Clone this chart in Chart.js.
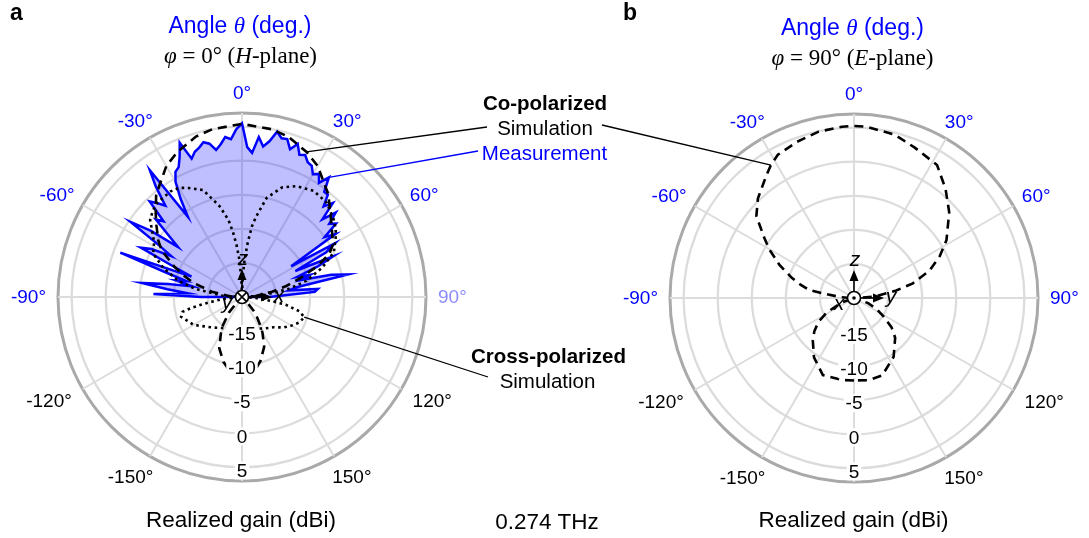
<!DOCTYPE html>
<html><head><meta charset="utf-8">
<script src="https://cdn.jsdelivr.net/npm/chart.js@4.4.1/dist/chart.umd.min.js"></script>
<style>
html,body{margin:0;padding:0;background:#fff;}
#wrap{position:relative;width:1089px;height:538px;overflow:hidden;background:#fff;}
canvas{position:absolute;left:0;top:0;}
.t{position:absolute;white-space:nowrap;font-family:"Liberation Sans",Arial,sans-serif;color:#000;}
</style></head><body><div id="wrap">
<canvas id="ca" width="1089" height="538"></canvas>
<canvas id="cb" width="1089" height="538"></canvas>
</div>
<script>
// ---------------- data (angle in degrees, realized gain in dBi) ----------------
const RING_TICKS = [-20, -15, -10, -5, 0, 5, 7];
const RING_LABELS = [-15, -10, -5, 0, 5];
const ANGLE_LABELS = [0, 30, 60, 90, 120, 150, -150, -120, -90, -60, -30];
const STEP_DEG = 2;

// H-plane (phi = 0), co-polarized simulation
const H_COPOL_SIM = [[-180,-8.6],[-170,-9.1],[-164,-10.1],[-156,-11.8],[-150,-13.8],[-146,-15.0],[-140,-17.0],[-130,-19.5],[-120,-20],[-100,-20],
 [-90,-19.5],[-86,-18],[-80,-15.5],[-74,-12.7],[-70,-11],[-66,-9.2],[-60,-6.4],[-56,-5.2],[-50,-3.6],[-46,-2.4],[-40,-0.4],[-30,2.2],[-24,3.3],[-16,4.5],[-10,5.0],
 [0,5.4],[10,5.0],[16,4.5],[24,3.3],[30,2.2],[40,-0.3],[46,-2.0],[50,-2.9],[56,-4.0],[60,-4.6],[64,-5.8],[68,-8.3],[72,-11],[76,-13.3],[80,-15.5],[86,-18],[90,-19.5],
 [100,-20],[120,-20],[130,-19.5],[140,-17],[146,-15.5],[150,-14],[156,-12],[164,-10.2],[170,-9.1]];
// H-plane, cross-polarized simulation
const H_CROSS_SIM = [[-180,-15.4],[-160,-15.1],[-146,-14.5],[-134,-13.6],[-128,-13.0],[-120,-11.8],[-116,-11.5],[-108,-10.6],[-104,-11.0],[-102,-12.5],[-100,-14.5],[-96,-17],[-92,-19.5],
 [-90,-20],[-86,-17],[-80,-13],[-76,-10.5],[-70,-7.8],[-64,-5.5],[-58,-4.8],[-50,-2.4],[-46,-1.8],[-42,-1.4],[-34,-1.3],[-30,-1.5],[-26,-2.2],[-20,-3.3],[-14,-6.2],[-10,-8.5],[-8,-10.3],[-6,-12.3],[-4,-14.5],[-2,-17.5],
 [0,-20],[2,-17],[4,-14.5],[6,-12],[8,-9.5],[10,-8],[14,-5],[20,-2.9],[26,-1.9],[34,-1.2],[42,-1.4],[50,-2.4],[54,-3.0],[58,-3.8],[64,-5.0],[70,-7.5],[76,-10.3],[80,-13],[86,-17],
 [90,-20],[94,-18],[98,-15.5],[100,-13.5],[104,-11.3],[108,-10.4],[114,-10.8],[120,-11.6],[126,-12.4],[134,-13.6],[146,-14.4],[160,-15.1]];
// H-plane, co-polarized measurement
const H_COPOL_MEAS = [[-90,-14],[-88,-7],[-86,-12],[-84,-9],[-82,-5.2],[-80,-9],[-78,-12.5],[-76,-10],[-74,-11.5],[-72,-8],[-70,-1.0],[-68,-12],[-66,-9],[-64,-3.5],[-62,-5],
 [-60,-8],[-58,-5.5],[-56,-0.3],[-54,-3.5],[-52,-8.1],[-50,-6],[-48,-3],[-46,-4],[-44,-0.5],[-42,-1.5],[-40,-2.5],[-38,0.5],[-36,3.0],[-34,-5.8],[-32,-3],[-30,-0.5],
 [-28,0.8],[-26,1.2],[-24,2.5],[-22,4.4],[-20,1.6],[-18,2.4],[-16,2.8],[-14,3.4],[-12,3.0],[-10,1.9],[-8,2.6],[-6,3.6],[-4,3.2],[-2,4.6],[0,5.5],
 [2,2.0],[4,1.2],[6,3.6],[8,2.3],[10,3.2],[12,4.8],[14,4.0],[16,4.1],[18,2.8],[20,3.9],[22,2.5],[24,2.8],[26,2.0],[28,1.8],[30,0.8],
 [32,1.3],[34,0.2],[36,1.7],[38,-0.4],[40,-0.4],[42,-2.1],[44,-0.8],[46,-3.6],[48,-1.5],[50,-3.3],[52,-2.5],[54,-5.0],[56,-3.5],[58,-11.5],[60,-4.3],
 [62,-6.0],[64,-11.3],[66,-5.4],[68,-8.0],[70,-11.4],[72,-9.5],[74,-11.0],[76,-6.5],[78,-4.1],[80,-12.0],[82,-13.0],[84,-8.8],[86,-9.3],[88,-14.0],[90,-16.0]];
// E-plane (phi = 90), co-polarized simulation
const E_COPOL_SIM = [[-180,-7.9],[-172,-7.85],[-158,-7.8],[-146,-9.5],[-136,-11.3],[-130,-12.4],[-124,-13.7],[-118,-15.5],[-110,-18],[-100,-20],
 [-90,-19.5],[-86,-18],[-82,-15.7],[-80,-13.4],[-76,-11.9],[-72,-10.4],[-66,-8.0],[-60,-5.6],[-56,-4.1],[-50,-1.3],[-44,0.3],[-36,2.0],[-32,3.0],[-28,3.8],[-20,4.4],[-12,4.95],[-4,5.2],
 [0,5.25],[4,5.2],[14,4.7],[22,3.8],[32,3.0],[40,0.9],[48,-1.2],[58,-4.0],[64,-6.0],[70,-8.2],[76,-11.1],[80,-13.7],[86,-17],[90,-19.5],
 [100,-20],[110,-17.8],[116,-16.3],[122,-14.9],[128,-13.0],[134,-11.6],[146,-9.6],[160,-7.9],[170,-7.75]];

// ---------------- category axis: angle of each radar spoke ----------------
const N = 360 / STEP_DEG;
const LABELS = [];
for (let i = 0; i < N; i++) { let a = (180 + i * STEP_DEG) % 360; if (a > 180) a -= 360; LABELS.push(a); }
function idxOf(deg) { return (((deg - 180) % 360 + 360) % 360) / STEP_DEG; }
function series(pairs) { const out = new Array(N).fill(null); pairs.forEach(([d, v]) => { out[idxOf(d)] = v; }); return out; }
function valAt(pairs, deg) { const p = pairs.find(q => q[0] === deg); return p ? p[1] : null; }

const SANS = '"Liberation Sans", Arial, sans-serif';

function decor(cfg) {
  return {
    id: 'decor',
    afterDatasetsDraw(chart) {
      const s = chart.scales.r, ctx = chart.ctx;
      const cx = s.xCenter, cy = s.yCenter, R = s.drawingArea;
      ctx.save();
      ctx.setLineDash([]);
      // callout leader lines
      cfg.callouts.forEach(c => {
        const p = s.getPointPositionForValue(idxOf(c.deg), valAt(c.pairs, c.deg));
        ctx.strokeStyle = c.color; ctx.lineWidth = 1.3;
        ctx.beginPath(); ctx.moveTo(c.from[0], c.from[1]); ctx.lineTo(p.x, p.y); ctx.stroke();
      });
      // coordinate glyph
      const g = cfg.glyph;
      ctx.strokeStyle = '#000'; ctx.fillStyle = '#000'; ctx.lineWidth = 1.6;
      ctx.beginPath(); ctx.moveTo(cx, cy - 7); ctx.lineTo(cx, cy - 19); ctx.stroke();
      ctx.beginPath(); ctx.moveTo(cx, cy - 28); ctx.lineTo(cx - 4.5, cy - 17); ctx.lineTo(cx + 4.5, cy - 17); ctx.closePath(); ctx.fill();
      ctx.beginPath(); ctx.moveTo(cx + 7, cy); ctx.lineTo(cx + 20, cy); ctx.stroke();
      ctx.beginPath(); ctx.moveTo(cx + 30, cy); ctx.lineTo(cx + 19, cy - 4.5); ctx.lineTo(cx + 19, cy + 4.5); ctx.closePath(); ctx.fill();
      ctx.beginPath(); ctx.arc(cx, cy, 6.5, 0, Math.PI * 2); ctx.fillStyle = '#fff'; ctx.fill(); ctx.stroke();
      ctx.fillStyle = '#000';
      if (g.type === 'cross') {
        ctx.beginPath(); ctx.moveTo(cx - 4.6, cy - 4.6); ctx.lineTo(cx + 4.6, cy + 4.6);
        ctx.moveTo(cx + 4.6, cy - 4.6); ctx.lineTo(cx - 4.6, cy + 4.6); ctx.stroke();
      } else {
        ctx.beginPath(); ctx.arc(cx, cy, 1.8, 0, Math.PI * 2); ctx.fill();
      }
      ctx.font = 'italic 21px ' + SANS; ctx.textAlign = 'center'; ctx.textBaseline = 'middle';
      ctx.fillText('z', cx + 1, cy - 38);
      ctx.fillText(g.right, cx + 37, cy - 1);
      ctx.fillText(g.left, cx - 15, cy + 6);
      // ring (gain) labels along the 180 deg direction
      ctx.font = '19px ' + SANS;
      RING_LABELS.forEach(v => {
        const r = s.getDistanceFromCenterForValue(v);
        const t = String(v), w = ctx.measureText(t).width;
        const y = cy + r + 3;
        ctx.fillStyle = '#fff'; ctx.fillRect(cx - w / 2 - 2, y - 9, w + 4, 18);
        ctx.fillStyle = '#000'; ctx.fillText(t, cx, y + 1);
      });
      // angle labels
      ANGLE_LABELS.forEach(a => {
        const t = a + '\u00b0', w = ctx.measureText(t).width, h = 16;
        const rad = a * Math.PI / 180, sn = Math.sin(rad), cs = Math.cos(rad);
        const rl = R + (Math.abs(a) > 90 ? 16 : 12);
        const x = cx + sn * rl + sn * w / 2, y = cy - cs * rl - cs * h / 2;
        ctx.fillStyle = cfg.labelColor(a);
        ctx.fillText(t, x, y + 1);
      });
      ctx.restore();
    }
  };
}

function makeChart(id, pad, datasets, cfg) {
  return new Chart(document.getElementById(id), {
    type: 'radar',
    data: { labels: LABELS, datasets },
    options: {
      responsive: false, animation: false, devicePixelRatio: 1, events: [],
      layout: { padding: pad },
      elements: { point: { radius: 0, hitRadius: 0 }, line: { tension: 0 } },
      plugins: { legend: { display: false }, tooltip: { enabled: false } },
      scales: {
        r: {
          min: -20, max: 7, startAngle: 180,
          afterBuildTicks: sc => { sc.ticks = RING_TICKS.map(v => ({ value: v })); },
          ticks: { display: false },
          pointLabels: { display: false },
          grid: {
            circular: true,
            color: c => (c.tick && c.tick.value === 7) ? '#a9a9a9' : '#dcdcdc',
            lineWidth: c => (c.tick && c.tick.value === 7) ? 3 : 2.3
          },
          angleLines: { color: '#dcdcdc', lineWidth: c => (c.index % (30 / STEP_DEG) === 0) ? 2 : 0 }
        }
      }
    },
    plugins: [decor(cfg)]
  });
}

const dashed = { borderColor: '#000', borderWidth: 2.6, borderDash: [9, 6], fill: false, spanGaps: true, pointRadius: 0 };
const dotted = { borderColor: '#000', borderWidth: 2.6, borderDash: [2.6, 3.6], fill: false, spanGaps: true, pointRadius: 0 };

makeChart('ca', { left: 58, top: 113, right: 663, bottom: 57 }, [
  Object.assign({ label: 'Co-polarized simulation', data: series(H_COPOL_SIM) }, dashed),
  Object.assign({ label: 'Cross-polarized simulation', data: series(H_CROSS_SIM) }, dotted),
  { label: 'Measurement', data: series(H_COPOL_MEAS), borderColor: '#0000ff', borderWidth: 2.5, backgroundColor: 'rgba(0,0,255,0.25)', fill: 'start', spanGaps: true, pointRadius: 0 }
], {
  glyph: { type: 'cross', right: 'x', left: 'y' },
  labelColor: a => a === 90 ? '#8c8cff' : (Math.abs(a) <= 90 ? '#0000ff' : '#000'),
  callouts: [
    { pairs: H_COPOL_SIM, deg: 24, from: [487, 127], color: '#000' },
    { pairs: H_COPOL_MEAS, deg: 36, from: [478, 151], color: '#0000ff' },
    { pairs: H_CROSS_SIM, deg: 108, from: [488, 377], color: '#000' }
  ]
});

makeChart('cb', { left: 670, top: 114, right: 51, bottom: 56 }, [
  Object.assign({ label: 'Co-polarized simulation', data: series(E_COPOL_SIM) }, dashed)
], {
  glyph: { type: 'dot', right: 'y', left: 'x' },
  labelColor: a => (Math.abs(a) <= 90 ? '#0000ff' : '#000'),
  callouts: [ { pairs: E_COPOL_SIM, deg: -32, from: [602, 125], color: '#000' } ]
});

// ---------------- text ----------------
const wrap = document.getElementById('wrap');
function txt(html, x, baseline, size, o = {}) {
  const d = document.createElement('div');
  d.className = 't';
  d.innerHTML = html;
  const serif = o.serif;
  d.style.fontFamily = serif ? '"Liberation Serif", "Times New Roman", serif' : SANS;
  d.style.fontSize = size + 'px';
  d.style.lineHeight = size + 'px';
  d.style.top = (baseline - (serif ? 0.8375 : 0.8465) * size) + 'px';
  d.style.left = x + 'px';
  if (!o.left) d.style.transform = 'translateX(-50%)';
  if (o.bold) d.style.fontWeight = 'bold';
  if (o.color) d.style.color = o.color;
  wrap.appendChild(d);
}
const TH = '<i style="font-family:\'Liberation Serif\',serif">&theta;</i>';
txt('a', 10, 20, 23, { left: true, bold: true });
txt('b', 623, 20, 23, { left: true, bold: true });
txt('Angle ' + TH + ' (deg.)', 240, 33, 23, { color: '#0000ff' });
txt('Angle ' + TH + ' (deg.)', 852.5, 35, 23, { color: '#0000ff' });
txt('<i>&phi;</i> = 0&deg; (<i>H</i>-plane)', 240.5, 63, 23, { serif: true });
txt('<i>&phi;</i> = 90&deg; (<i>E</i>-plane)', 852.5, 65, 23, { serif: true });
txt('Realized gain (dBi)', 241, 528, 22.5);
txt('Realized gain (dBi)', 853.5, 528, 22.5);
txt('0.274 THz', 547, 530, 22.5);
txt('Co-polarized', 545, 110, 20.5, { bold: true });
txt('Simulation', 545, 135, 20.5);
txt('Measurement', 544.5, 160, 20.5, { color: '#0000ff' });
txt('Cross-polarized', 548.5, 363, 20.5, { bold: true });
txt('Simulation', 547.5, 388, 20.5);
</script>
</body></html>
